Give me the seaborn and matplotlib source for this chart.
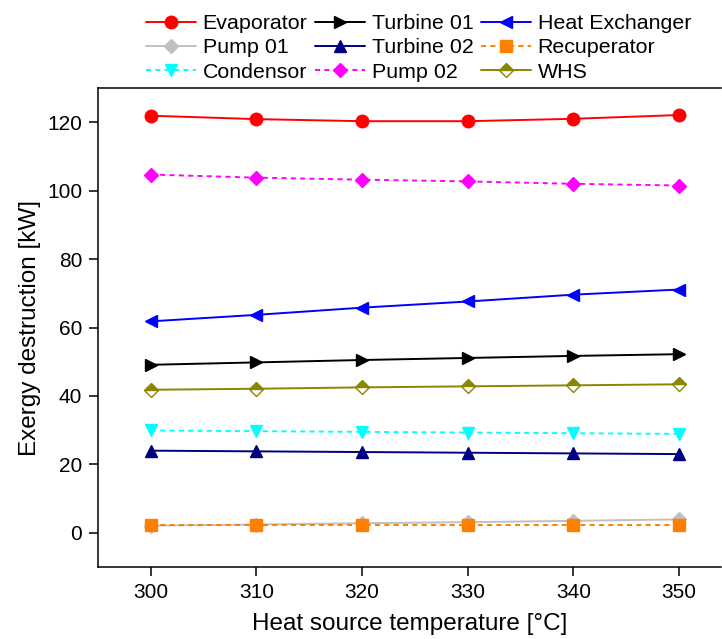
import matplotlib
matplotlib.use("Agg")
import matplotlib.pyplot as plt
import seaborn as sns
import pandas as pd

temperature = [300, 310, 320, 330, 340, 350]

evaporator = [121.9, 120.9, 120.3, 120.3, 121.0, 122.1]
turbine_01 = [49.1, 49.8, 50.5, 51.1, 51.7, 52.2]
heat_exchanger = [61.8, 63.7, 65.8, 67.6, 69.6, 71.1]
pump_01 = [2.1, 2.4, 2.8, 3.1, 3.5, 3.9]
turbine_02 = [24.0, 23.8, 23.6, 23.4, 23.2, 23.0]
recuperator = [2.2, 2.2, 2.2, 2.2, 2.2, 2.2]
condensor = [29.9, 29.7, 29.5, 29.3, 29.1, 28.9]
pump_02 = [104.7, 103.8, 103.2, 102.7, 102.0, 101.5]
whs = [41.8, 42.1, 42.5, 42.8, 43.1, 43.4]

x_ticks = [300, 310, 320, 330, 340, 350]
y_ticks = [0, 20, 40, 60, 80, 100, 120]

sns.set_style("ticks")
plt.rcParams["font.family"] = ["Liberation Sans", "DejaVu Sans"]
plt.rcParams.update({
    "axes.linewidth": 1.1,
    "axes.edgecolor": "black",
    "text.color": "black",
    "axes.labelcolor": "black",
    "xtick.color": "black",
    "ytick.color": "black",
})

fig = plt.figure(figsize=(7.22, 6.39), dpi=100)
ax = fig.add_axes([98 / 722, 1 - 567 / 639, 623.4 / 722, (567 - 88) / 639])

dash = (0, (2.6, 2.2))
series = [
    ("Evaporator", evaporator, dict(color="#FF0000", marker="o", linestyle="-")),
    ("Turbine 01", turbine_01, dict(color="#000000", marker=">", linestyle="-")),
    ("Heat Exchanger", heat_exchanger, dict(color="#0000FF", marker="<", linestyle="-")),
    ("Pump 01", pump_01, dict(color="#C0C0C0", marker="D", linestyle="-", markersize=7.5)),
    ("Turbine 02", turbine_02, dict(color="#000080", marker="^", linestyle="-")),
    ("Recuperator", recuperator, dict(color="#FF8000", marker="s", linestyle=dash, markersize=8)),
    ("Condensor", condensor, dict(color="#00FFFF", marker="v", linestyle=dash)),
    ("Pump 02", pump_02, dict(color="#FF00FF", marker="D", linestyle=dash, markersize=7.5)),
    ("WHS", whs, dict(color="#8B8600", marker="D", linestyle="-", markersize=7.5,
                      fillstyle="top", markerfacecoloralt="white")),
]

for name, values, style in series:
    style = dict(style)
    style.setdefault("markersize", 9)
    df = pd.DataFrame({"T": temperature, "E": values})
    sns.lineplot(data=df, x="T", y="E", ax=ax, label=name, linewidth=1.4,
                 markeredgecolor=style["color"], markeredgewidth=1.0, **style)

ax.set_xlim(295, 354)
ax.set_ylim(-10, 130)
ax.set_xticks(x_ticks)
ax.set_yticks(y_ticks)
ax.tick_params(direction="out", length=6.5, width=1.1, labelsize=15, pad=5)
ax.spines["right"].set_visible(False)
ax.set_xlabel("Heat source temperature [°C]", fontsize=17.5, labelpad=8)
ax.set_ylabel("Exergy destruction [kW]", fontsize=17.5, labelpad=4)

handles, labels = ax.get_legend_handles_labels()
lookup = dict(zip(labels, handles))
order = ["Evaporator", "Pump 01", "Condensor",
         "Turbine 01", "Turbine 02", "Pump 02",
         "Heat Exchanger", "Recuperator", "WHS"]
ax.legend([lookup[k] for k in order], order, ncol=3, frameon=False,
          loc="upper left", bbox_to_anchor=(146 / 722, 1 - 14 / 639),
          bbox_transform=fig.transFigure, borderaxespad=0, borderpad=0,
          fontsize=15.4, handlelength=2.35, handletextpad=0.3,
          columnspacing=0.35, labelspacing=0.25)

fig.savefig("out.png", dpi=100)
